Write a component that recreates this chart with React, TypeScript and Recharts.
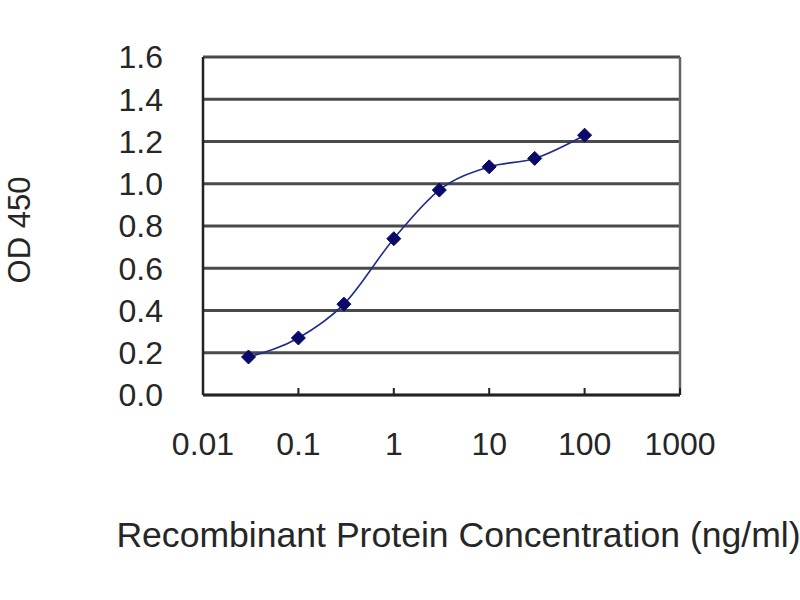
import React from 'react';
import {
  LineChart,
  Line,
  XAxis,
  YAxis,
  CartesianGrid,
  ReferenceLine,
  Label
} from 'recharts';

// concentration (ng/ml) and OD 450 readings
const concentrations = [0.03, 0.1, 0.3, 1, 3, 10, 30, 100];
const odValues = [0.18, 0.27, 0.43, 0.74, 0.97, 1.08, 1.12, 1.23];

const xTicks = [0.01, 0.1, 1, 10, 100, 1000];
const yTicks = [0, 0.2, 0.4, 0.6, 0.8, 1.0, 1.2, 1.4, 1.6];

const data = concentrations.map((c, i) => ({ conc: c, od: odValues[i] }));

const FONT = '"Liberation Sans", Arial, sans-serif';
const TEXT_COLOR = '#262626';
const X_TICK_MARGIN = 37;

const XTick = (props: any) => {
  const { x, y, payload } = props;
  const axisY = y - X_TICK_MARGIN;
  return (
    <g>
      <line x1={x} x2={x} y1={axisY} y2={axisY - 7} stroke="#222" strokeWidth={2} />
      <text
        x={x}
        y={y}
        dy="0.71em"
        textAnchor="middle"
        fill={TEXT_COLOR}
        fontSize={32}
        fontFamily={FONT}
      >
        {String(payload.value)}
      </text>
    </g>
  );
};

// rotated y-axis title, placed from the axis viewBox
const YTitle = (props: any) => {
  const { viewBox } = props;
  const cx = viewBox.x + 30;
  const cy = viewBox.y + viewBox.height / 2 + 4;
  return (
    <text
      x={cx}
      y={cy}
      transform={`rotate(-90, ${cx}, ${cy})`}
      textAnchor="middle"
      fill={TEXT_COLOR}
      fontSize={31}
      fontFamily={FONT}
    >
      OD 450
    </text>
  );
};

const Diamond = (props: any) => {
  const { cx, cy } = props;
  if (cx == null || cy == null) return null;
  const r = 7;
  return (
    <polygon
      points={`${cx},${cy - r} ${cx + r},${cy} ${cx},${cy + r} ${cx - r},${cy}`}
      fill="#0a0a6a"
      stroke="#0a0a6a"
    />
  );
};

export default function App() {
  return (
    <div style={{ position: 'absolute', left: 0, top: 0, width: 800, height: 600, background: '#fff' }}>
      <LineChart
        width={800}
        height={600}
        data={data}
        margin={{ top: 57, right: 120, left: 0, bottom: 105 }}
      >
        <CartesianGrid
          vertical={false}
          stroke="#4a4a4a"
          strokeWidth={3}
        />
        <ReferenceLine x={1000} stroke="#666" strokeWidth={2.5} />
        <XAxis
          dataKey="conc"
          type="number"
          scale="log"
          domain={[0.01, 1000]}
          ticks={xTicks}
          allowDataOverflow
          height={100}
          tickSize={0}
          tickMargin={X_TICK_MARGIN}
          tick={<XTick />}
          axisLine={{ stroke: '#222', strokeWidth: 2.5 }}
          tickLine={false}
        >
          <Label
            value="Recombinant Protein Concentration (ng/ml)"
            position="bottom"
            offset={27}
            dx={17}
            fill={TEXT_COLOR}
            fontSize={35.6}
            fontFamily={FONT}
          />
        </XAxis>
        <YAxis
          type="number"
          domain={[0, 1.6]}
          ticks={yTicks}
          width={203}
          tickSize={0}
          tickMargin={40}
          tickFormatter={(v: number) => v.toFixed(1)}
          tick={{ fill: TEXT_COLOR, fontSize: 32, fontFamily: FONT }}
          axisLine={{ stroke: '#222', strokeWidth: 2.5 }}
          tickLine={false}
        >
          <Label content={<YTitle />} />
        </YAxis>
        <Line
          type="monotone"
          dataKey="od"
          stroke="#1f2b8f"
          strokeWidth={1.6}
          dot={<Diamond />}
          activeDot={false}
          isAnimationActive={false}
        />
      </LineChart>
    </div>
  );
}
